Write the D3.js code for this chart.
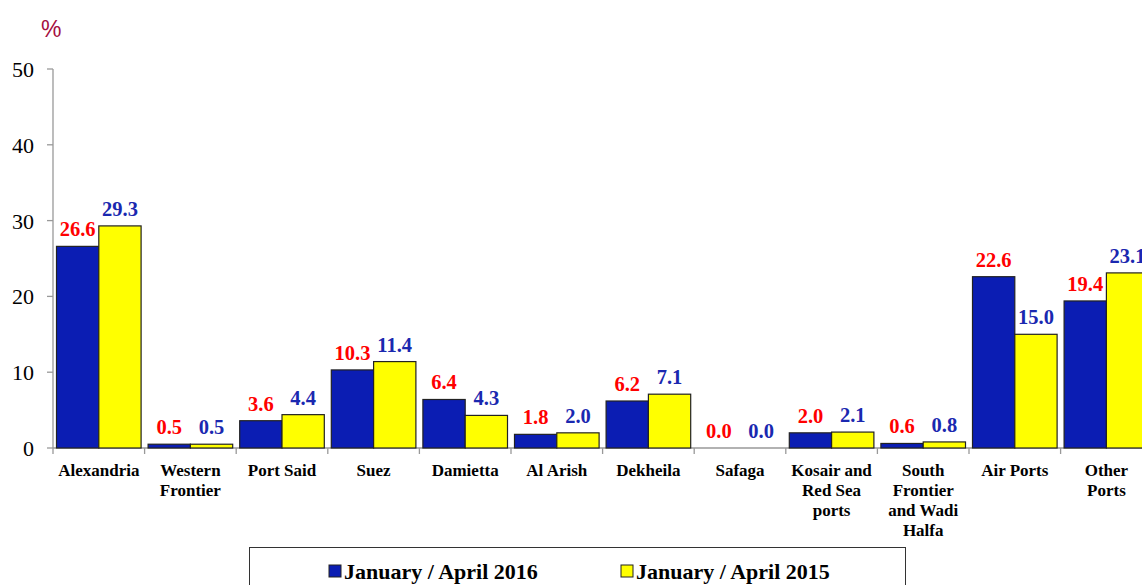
<!DOCTYPE html>
<html>
<head>
<meta charset="utf-8">
<script src="https://cdn.jsdelivr.net/npm/d3@7"></script>
<style>
body { margin: 0; background: #fff; }
svg { display: block; }
</style>
</head>
<body>
<svg id="chart" width="1142" height="585"></svg>
<script>
// data
const categories = [
  ["Alexandria"], ["Western", "Frontier"], ["Port Said"], ["Suez"], ["Damietta"],
  ["Al Arish"], ["Dekheila"], ["Safaga"], ["Kosair and", "Red Sea", "ports"],
  ["South", "Frontier", "and Wadi", "Halfa"], ["Air Ports"], ["Other", "Ports"]
];
const series = ["January / April 2016", "January / April 2015"];
const vals2016 = [26.6, 0.5, 3.6, 10.3, 6.4, 1.8, 6.2, 0.0, 2.0, 0.6, 22.6, 19.4];
const vals2015 = [29.3, 0.5, 4.4, 11.4, 4.3, 2.0, 7.1, 0.0, 2.1, 0.8, 15.0, 23.1];
const yTicks = [0, 10, 20, 30, 40, 50];

const barColors = ["#0b1db3", "#ffff00"];
const labelColors = ["#ff0000", "#1a28b0"];
const serif = "Liberation Serif, Times New Roman, serif";

let svg = d3.select("#chart");
let plotLeft = 53, plotTop = 69, plotBottom = 448;
let bandW = 91.6;

let x = d3.scaleBand().domain(d3.range(categories.length))
  .range([plotLeft, plotLeft + bandW * categories.length]).padding(0);
let xs = d3.scaleBand().domain([0, 1]).range([3.5, bandW - 3.5]).padding(0);
let y = d3.scaleLinear().domain([0, 50]).range([plotBottom, plotTop]);

// y axis
svg.append("line").attr("x1", plotLeft).attr("x2", plotLeft).attr("y1", plotTop).attr("y2", plotBottom)
  .attr("stroke", "#999").attr("stroke-width", 1.3);
svg.selectAll(".ytick").data(yTicks).enter().append("line")
  .attr("x1", plotLeft - 6).attr("x2", plotLeft).attr("y1", d => y(d)).attr("y2", d => y(d))
  .attr("stroke", "#999").attr("stroke-width", 1.3);
svg.selectAll(".ylab").data(yTicks).enter().append("text")
  .attr("x", 34).attr("y", d => y(d) + 8).attr("text-anchor", "end")
  .attr("font-family", serif).attr("font-size", 22)
  .attr("fill", "#000").text(d => d);

svg.append("text").attr("x", 41).attr("y", 37).text("%")
  .attr("font-family", "Liberation Sans, Arial, sans-serif").attr("font-size", 23)
  .attr("fill", "#a5103f");

// x axis
svg.append("line").attr("x1", plotLeft).attr("x2", 1142).attr("y1", plotBottom).attr("y2", plotBottom)
  .attr("stroke", "#999").attr("stroke-width", 1.3);
svg.selectAll(".xtick").data(d3.range(categories.length + 1)).enter().append("line")
  .attr("x1", d => plotLeft + d * bandW).attr("x2", d => plotLeft + d * bandW)
  .attr("y1", plotBottom).attr("y2", plotBottom + 6)
  .attr("stroke", "#999").attr("stroke-width", 1.3);

// bars
let data = categories.map((c, i) => ({ i: i, v: [vals2016[i], vals2015[i]] }));
let groups = svg.selectAll(".grp").data(data).enter().append("g")
  .attr("transform", d => `translate(${x(d.i)},0)`);

groups.selectAll("rect").data(d => d.v.map((v, k) => ({ v: v, k: k }))).enter().append("rect")
  .attr("x", d => xs(d.k)).attr("width", xs.bandwidth())
  .attr("y", d => y(d.v)).attr("height", d => plotBottom - y(d.v))
  .attr("fill", d => barColors[d.k]).attr("stroke", "#222").attr("stroke-width", 1.2);

groups.selectAll(".val").data(d => d.v.map((v, k) => ({ v: v, k: k }))).enter().append("text")
  .attr("x", d => xs(d.k) + xs.bandwidth() / 2).attr("y", d => y(d.v) - 10)
  .attr("text-anchor", "middle")
  .attr("font-family", serif).attr("font-weight", "bold")
  .attr("font-size", 20.5).attr("fill", d => labelColors[d.k])
  .text(d => d.v.toFixed(1));

// category labels
groups.each(function(d) {
  let t = d3.select(this).append("text")
    .attr("text-anchor", "middle")
    .attr("font-family", serif).attr("font-weight", "bold")
    .attr("font-size", 17).attr("fill", "#000");
  categories[d.i].forEach((line, j) => {
    t.append("tspan").attr("x", bandW / 2).attr("y", 476 + j * 20).text(line);
  });
});

// legend
svg.append("rect").attr("x", 249.5).attr("y", 547.5).attr("width", 656).attr("height", 45)
  .attr("fill", "#fff").attr("stroke", "#333").attr("stroke-width", 1);
let legX = [329, 621];
series.forEach((s, k) => {
  svg.append("rect").attr("x", legX[k]).attr("y", 565).attr("width", 12).attr("height", 12)
    .attr("fill", barColors[k]).attr("stroke", "#222").attr("stroke-width", 1);
  svg.append("text").attr("x", legX[k] + 15).attr("y", 579).text(s)
    .attr("font-family", serif).attr("font-weight", "bold")
    .attr("font-size", 22).attr("fill", "#000");
});
</script>
</body>
</html>
